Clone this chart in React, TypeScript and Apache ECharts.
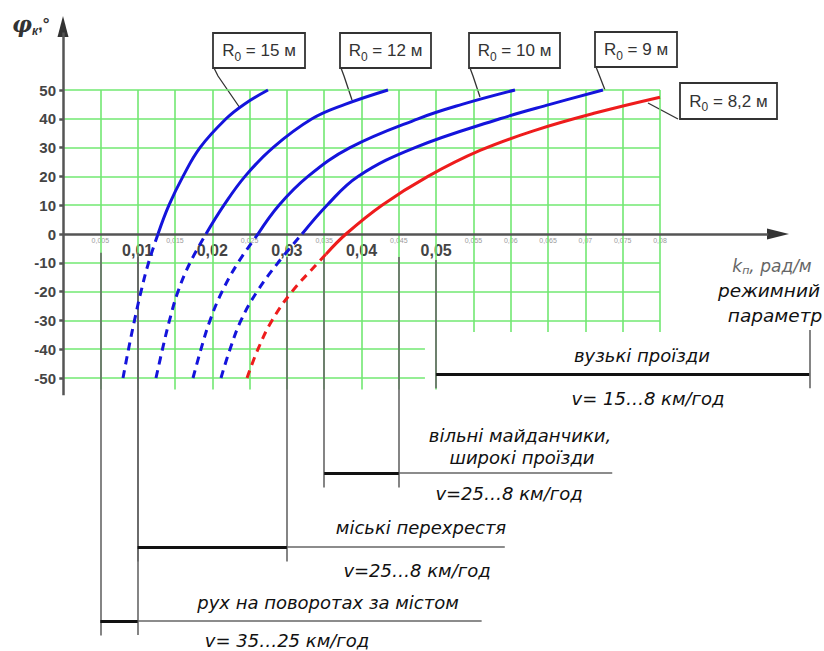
import React, { useEffect, useRef } from 'react';
import * as echarts from 'echarts';

type P = [number, number];

// ---- axis ticks ----
const yTickValues = [-50, -40, -30, -20, -10, 0, 10, 20, 30, 40, 50];
const xMajorLabels = ['0,01', '0,02', '0,03', '0,04', '0,05'];

// ---- grid (green) ----
const gridXLong = [0.005, 0.01, 0.015, 0.02, 0.025, 0.03, 0.035, 0.04, 0.045, 0.05];
const gridXShort = [0.055, 0.06, 0.065, 0.07, 0.075, 0.08];
const gridYUpper = [10, 20, 30, 40, 50];
const gridYLowerLong = [-10, -20, -30];
const gridYLowerShort = [-40, -50];

// ---- curves phi_k(k_p) ----
const r15Dashed: P[] = [[0.00804, -50], [0.00878, -40], [0.00958, -30], [0.01045, -20], [0.01146, -10], [0.01273, 0]];
const r15Solid: P[] = [[0.01273, 0], [0.0142, 10], [0.01608, 20], [0.01836, 30], [0.02184, 40], [0.02425, 45], [0.02747, 50]];
const r12Dashed: P[] = [[0.01246, -50], [0.01333, -40], [0.01427, -30], [0.01541, -20], [0.01702, -10], [0.01916, 0]];
const r12Solid: P[] = [[0.01916, 0], [0.02157, 10], [0.02439, 20], [0.02814, 30], [0.03337, 40], [0.03779, 45], [0.04355, 50]];
const r10Dashed: P[] = [[0.01742, -50], [0.01849, -40], [0.0197, -30], [0.02131, -20], [0.02345, -10], [0.02613, 0]];
const r10Solid: P[] = [[0.02613, 0], [0.02894, 10], [0.03283, 20], [0.03846, 30], [0.04757, 40], [0.05347, 45], [0.06057, 50]];
const r9Dashed: P[] = [[0.02117, -50], [0.02238, -40], [0.02385, -30], [0.026, -20], [0.02881, -10], [0.03203, 0]];
const r9Solid: P[] = [[0.03203, 0], [0.03538, 10], [0.03953, 20], [0.04717, 30], [0.05856, 40], [0.06526, 45], [0.07236, 50]];
const r82Dashed: P[] = [[0.02466, -50], [0.02613, -40], [0.02801, -30], [0.03069, -20], [0.03417, -10], [0.03524, -7]];
const r82Solid: P[] = [[0.03524, -7], [0.03792, 0], [0.04275, 10], [0.04891, 20], [0.05588, 29], [0.06325, 36], [0.07129, 42], [0.08, 47.5]];

const radiusLabels = ['15', '12', '10', '9', '8,2'];

// ---- operating ranges of k_p ----
const rangeNames = ['вузькі проїзди', 'вільні майданчики, широкі проїзди', 'міські перехрестя', 'рух на поворотах за містом'];
const rangeSpeeds = ['v= 15…8 км/год', 'v=25…8 км/год', 'v=25…8 км/год', 'v= 35…25 км/год'];
const rangeFrom = [0.05, 0.035, 0.01, 0.005];
const rangeTo = [0.1, 0.045, 0.03, 0.01];

const GREEN = '#72e872';
const BLUE = '#1414dc';
const RED = '#ee1c1c';
const AXIS = '#555';
const FONT = 'Liberation Sans, Arial, sans-serif';
const IFONT = 'DejaVu Sans, sans-serif';

const GRID_TOP = 3.6;
const GRID_H = 633.6;
const Y_MIN = -140;
const Y_MAX = 80;

function seg(x1: number, y1: number, x2: number, y2: number) {
  return { coords: [[x1, y1], [x2, y2]] };
}

export default function App() {
  const ref = useRef<HTMLDivElement>(null);
  useEffect(() => {
    document.body.style.margin = '0';
    const chart = echarts.init(ref.current!, null, { renderer: 'svg' });

    const gridSegs: any[] = [];
    gridYUpper.forEach((y) => gridSegs.push(seg(0, y, 0.08, y)));
    gridYLowerLong.forEach((y) => gridSegs.push(seg(0, y, 0.08, y)));
    gridYLowerShort.forEach((y) => gridSegs.push(seg(0, y, 0.0485, y)));
    gridXLong.forEach((x) => gridSegs.push(seg(x, 50, x, -54)));
    gridXShort.forEach((x) => gridSegs.push(seg(x, 50, x, -34)));

    const axisSegs: any[] = [seg(0, 0, 0.0945, 0), seg(0, -56, 0, 70)];
    yTickValues.forEach((y) => axisSegs.push(seg(-0.0005, y, 0, y)));

    // range levels (below the plot)
    const levels = [-48.6, -83, -108.7, -134.4];
    const thinEnds = [0.1, 0.0736, 0.0592, 0.0561];
    const vTops = [-9, -8, -8, -6.5];
    const thin: any[] = [];
    const thick: any[] = [];
    rangeFrom.forEach((f, i) => {
      const t = rangeTo[i];
      const lv = levels[i];
      thick.push(seg(f, lv, t, lv));
      if (thinEnds[i] > t) thin.push(seg(t, lv, thinEnds[i], lv));
      const bottom = lv - 5;
      thin.push(seg(f, vTops[i], f, bottom));
      if (i === 0) thin.push(seg(t, -33.3, t, bottom));
      else thin.push(seg(t, vTops[i], t, i === 3 ? -139.2 : bottom));
    });

    const curve = (data: P[], color: string, dashed: boolean) => ({
      type: 'line',
      data,
      showSymbol: false,
      symbol: 'none',
      smooth: 0.4,
      silent: true,
      z: 5,
      lineStyle: { color, width: 3, type: dashed ? [8, 6] : 'solid' },
    });

    const itext = (text: string, x: number, y: number, size = 18, fill = '#111') => ({
      type: 'text',
      x,
      y,
      style: {
        text,
        font: `italic ${size}px ${IFONT}`,
        fill,
        align: 'center',
        verticalAlign: 'middle',
      },
    });

    const box = (label: string, x: number, y: number, w: number, h: number, leader: number[][]) => [
      { type: 'polyline', shape: { points: leader }, style: { stroke: '#333', lineWidth: 1.3, fill: null } },
      { type: 'rect', shape: { x, y, width: w, height: h }, style: { fill: '#fff', stroke: '#333', lineWidth: 1.8 } },
      {
        type: 'text',
        x: x + w / 2,
        y: y + h / 2,
        style: {
          text: `{r|R}{s|0}{t| = ${label} м}`,
          align: 'center',
          verticalAlign: 'middle',
          fill: '#333',
          rich: {
            r: { fontSize: 17, fontFamily: FONT, lineHeight: 24, verticalAlign: 'middle', fill: '#333' },
            s: { fontSize: 12, fontFamily: FONT, lineHeight: 12, verticalAlign: 'bottom', fill: '#333' },
            t: { fontSize: 17, fontFamily: FONT, lineHeight: 24, verticalAlign: 'middle', fill: '#333' },
          },
        },
      },
    ];

    // distance from grid bottom to the y = 0 level, used to lift the x axis labels onto y = 0
    const zeroOffset = -GRID_H * (0 - Y_MIN) / (Y_MAX - Y_MIN);

    const option: any = {
      animation: false,
      backgroundColor: '#fff',
      grid: { left: 63, top: GRID_TOP, width: 746.25, height: GRID_H, containLabel: false },
      xAxis: {
        type: 'value',
        min: 0,
        max: 0.1,
        interval: 0.005,
        position: 'bottom',
        offset: zeroOffset,
        axisLine: { show: false, onZero: false },
        axisTick: { show: false },
        splitLine: { show: false },
        axisLabel: {
          margin: 3,
          showMaxLabel: false,
          formatter: (v: number) => {
            const k = Math.round(v * 1000);
            if (k <= 0 || k > 80) return '';
            const s = (k / 1000).toString().replace('.', ',');
            if (xMajorLabels.includes(s)) return `{b|${s}}`;
            return `{s|${s}}`;
          },
          rich: {
            b: { fontSize: 16, fontWeight: 'bold', color: '#444', fontFamily: FONT, padding: [5, 0, 0, 0] },
            s: { fontSize: 7, color: '#9a9a9a', fontFamily: FONT },
          },
        },
      },
      yAxis: {
        type: 'value',
        min: Y_MIN,
        max: Y_MAX,
        interval: 10,
        axisLine: { show: false, onZero: false },
        axisTick: { show: false },
        splitLine: { show: false },
        axisLabel: {
          margin: 7,
          fontSize: 15,
          fontWeight: 'bold',
          color: '#444',
          fontFamily: FONT,
          formatter: (v: number) => (yTickValues.includes(v) ? String(v) : ''),
        },
      },
      series: [
        { type: 'lines', coordinateSystem: 'cartesian2d', silent: true, clip: false, z: 1, lineStyle: { color: GREEN, width: 1.6, opacity: 1 }, data: gridSegs },
        { type: 'lines', coordinateSystem: 'cartesian2d', silent: true, clip: false, z: 3, lineStyle: { color: AXIS, width: 2.5, opacity: 1 }, data: axisSegs },
        { type: 'lines', coordinateSystem: 'cartesian2d', silent: true, clip: false, z: 3, lineStyle: { color: '#666', width: 1.6, opacity: 1 }, data: thin },
        { type: 'lines', coordinateSystem: 'cartesian2d', silent: true, clip: false, z: 4, lineStyle: { color: '#111', width: 3.2, opacity: 1 }, data: thick },
        curve(r15Dashed, BLUE, true),
        curve(r15Solid, BLUE, false),
        curve(r12Dashed, BLUE, true),
        curve(r12Solid, BLUE, false),
        curve(r10Dashed, BLUE, true),
        curve(r10Solid, BLUE, false),
        curve(r9Dashed, BLUE, true),
        curve(r9Solid, BLUE, false),
        curve(r82Dashed, RED, true),
        curve(r82Solid, RED, false),
      ],
      graphic: [
        // axis arrows
        { type: 'polygon', shape: { points: [[63, 16], [57.5, 37], [68.5, 37]] }, style: { fill: '#333' } },
        { type: 'polygon', shape: { points: [[789, 234], [767, 228.5], [767, 239.5]] }, style: { fill: '#333' } },
        // y axis title
        {
          type: 'text',
          x: 12,
          y: 24,
          style: {
            text: '{p|φ}{s|к}{n|,°}',
            verticalAlign: 'middle',
            rich: {
              p: { fontSize: 22, fontWeight: 'bold', fontStyle: 'italic', fontFamily: 'DejaVu Serif, serif', fill: '#333', lineHeight: 26, verticalAlign: 'middle' },
              s: { fontSize: 12, fontWeight: 'bold', fontStyle: 'italic', fontFamily: FONT, fill: '#333', lineHeight: 12, verticalAlign: 'bottom' },
              n: { fontSize: 17, fontWeight: 'bold', fontFamily: FONT, fill: '#333', lineHeight: 26, verticalAlign: 'middle' },
            },
          },
        },
        // x axis title
        {
          type: 'text',
          x: 772,
          y: 266,
          style: {
            text: '{k|k}{s|п}{t|, рад/м}',
            align: 'center',
            verticalAlign: 'middle',
            rich: {
              k: { fontSize: 17, fontStyle: 'italic', fontFamily: IFONT, fill: '#666', lineHeight: 20, verticalAlign: 'middle' },
              s: { fontSize: 11, fontStyle: 'italic', fontFamily: IFONT, fill: '#666', lineHeight: 11, verticalAlign: 'bottom' },
              t: { fontSize: 17, fontStyle: 'italic', fontFamily: IFONT, fill: '#666', lineHeight: 20, verticalAlign: 'middle' },
            },
          },
        },
        itext('режимний', 769, 290, 18.5),
        itext('параметр', 775, 315, 18.5),
        // range annotations
        itext(rangeNames[0], 642, 355),
        itext(rangeSpeeds[0], 648, 398),
        itext('вільні майданчики,', 520, 435),
        itext('широкі проїзди', 522, 457),
        itext(rangeSpeeds[1], 509, 493),
        itext(rangeNames[2], 421, 527),
        itext(rangeSpeeds[2], 417, 570),
        itext(rangeNames[3], 328, 602),
        itext(rangeSpeeds[3], 287, 640),
        // curve labels
        ...box(radiusLabels[0], 213, 33, 92, 35, [[214, 68], [218, 76], [240, 108]]),
        ...box(radiusLabels[1], 340, 33, 91, 35, [[341, 68], [344, 76], [352, 100]]),
        ...box(radiusLabels[2], 469, 33, 91, 35, [[470, 68], [473, 76], [480, 97]]),
        ...box(radiusLabels[3], 595, 32, 82, 35, [[596, 67], [598, 72], [605, 90]]),
        ...box(radiusLabels[4], 680, 83, 97, 36, [[648, 103], [678, 119]]),
      ],
    };
    chart.setOption(option);
    return () => chart.dispose();
  }, []);
  return <div ref={ref} style={{ width: 824, height: 651 }} />;
}
